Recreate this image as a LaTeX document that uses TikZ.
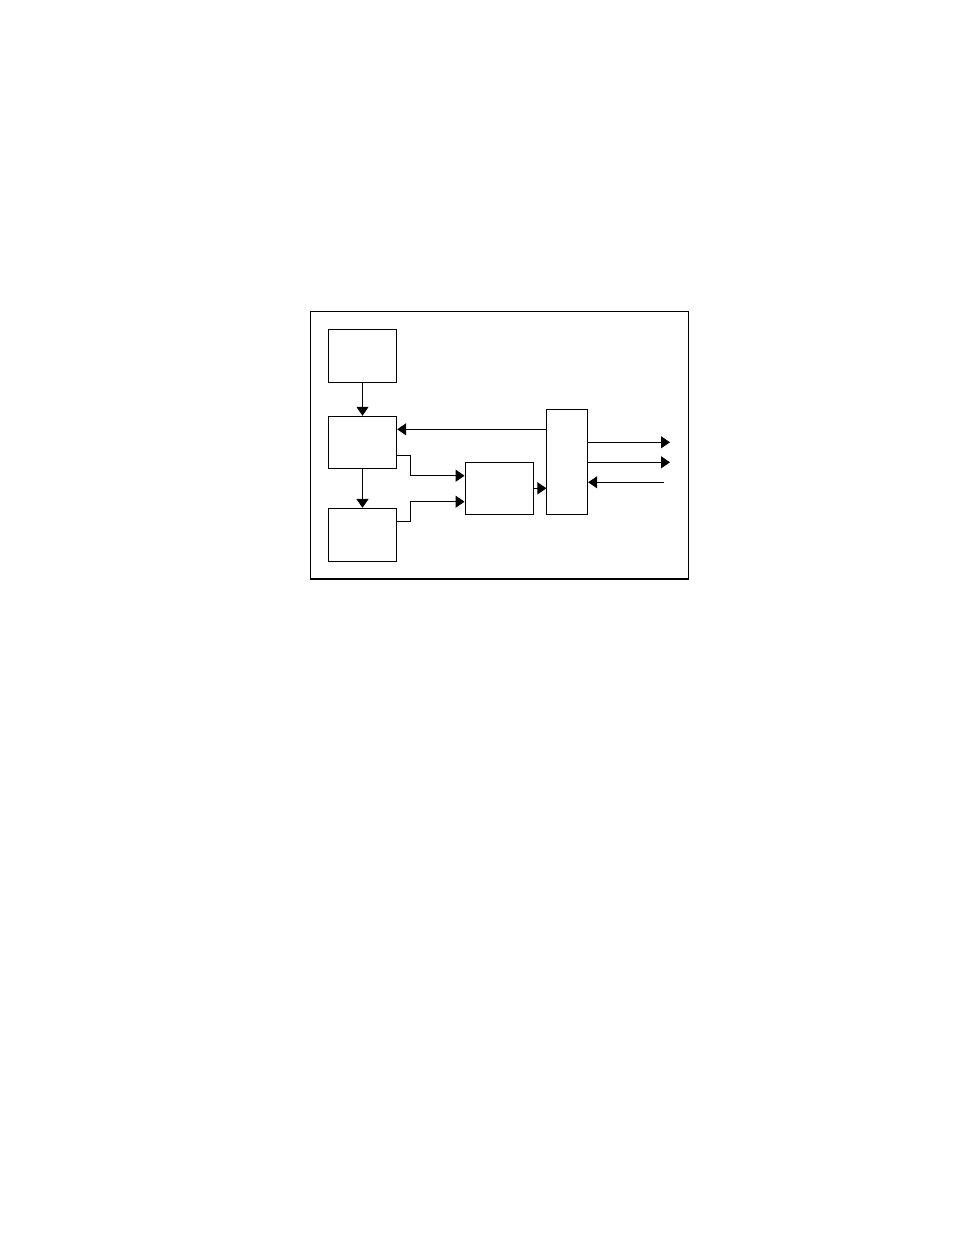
\documentclass[tikz,border=0pt]{standalone}
\usetikzlibrary{arrows.meta}

\begin{document}
\begin{tikzpicture}[x=1pt, y=-1pt,
    block/.style={draw, line width=1pt, inner sep=0pt},
    sig/.style={line width=1pt, -{Triangle[length=9pt, width=12pt]}}]
  \useasboundingbox (0,0) rectangle (954,1235);

  % Frame
  \draw[line width=1pt] (310.7,578) -- (310.7,311.7) -- (688.3,311.7);
  \draw[line width=1.5pt] (688.3,311.2) -- (688.3,578);
  \draw[line width=2pt] (310.2,578.7) -- (689,578.7);

  % Blocks
  \node[block, minimum width=68.4pt, minimum height=53pt] (src) at (362.5,355.8) {};
  \node[block, minimum width=68.4pt, minimum height=52pt] (ctl) at (362.5,442.3) {};
  \node[block, minimum width=68.4pt, minimum height=52.7pt] (mem) at (362.5,534.7) {};
  \node[block, minimum width=68.3pt, minimum height=52pt] (mix) at (499.2,488.3) {};
  \node[block, minimum width=40.7pt, minimum height=105pt] (bus) at (567.3,461.8) {};

  % External ends
  \coordinate (out1) at (670,442.3);
  \coordinate (out2) at (670,462.3);
  \coordinate (in1) at (664,482.3);

  \draw[sig] (src) -- (ctl);
  \draw[sig] (ctl) -- (mem);
  \draw[sig] ([yshift=32.5]bus.west) -- ([yshift=32.5]bus.west -| ctl.east);
  \draw[sig] ([yshift=-13.4]ctl.east) -- ++(13.3,0) |- ([yshift=12.6]mix.west);
  \draw[sig] ([yshift=13.7]mem.east) -- ++(13.3,0) |- ([yshift=-13.4]mix.west);
  \draw[sig] (mix.east) -- (mix.east -| bus.west);
  \draw[sig] (bus.east |- out1) -- (out1);
  \draw[sig] (bus.east |- out2) -- (out2);
  \draw[sig] (in1) -- (in1 -| bus.east);
\end{tikzpicture}
\end{document}
